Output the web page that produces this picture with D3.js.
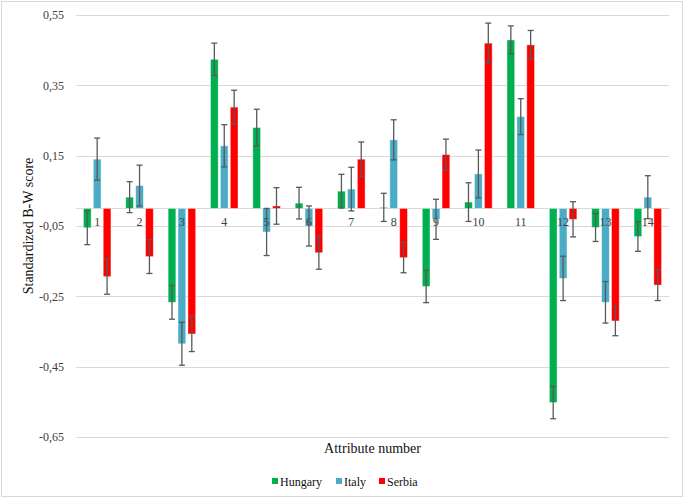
<!DOCTYPE html>
<html>
<head>
<meta charset="utf-8">
<script src="https://cdn.jsdelivr.net/npm/d3@7/dist/d3.min.js"></script>
<style>
  body { margin: 0; background: #fff; }
  svg { display: block; }
</style>
</head>
<body>
<svg id="chart" width="685" height="500" font-family="Liberation Serif"></svg>
<script>
const categories = ["1","2","3","4","5","6","7","8","9","10","11","12","13","14"];
const seriesNames = ["Hungary","Italy","Serbia"];
const seriesColors = ["#00B050","#4BACC6","#FF0000"];
const hungary = [-0.055, 0.032, -0.267, 0.424, 0.230, 0.015, 0.049, 0.003, -0.222, 0.018, 0.479, -0.552, -0.054, -0.080];
const italy   = [0.140, 0.065, -0.385, 0.178, -0.067, -0.050, 0.055, 0.195, -0.031, 0.098, 0.261, -0.199, -0.267, 0.032];
const serbia  = [-0.194, -0.137, -0.357, 0.288, 0.007, -0.126, 0.140, -0.140, 0.153, 0.470, 0.465, -0.031, -0.320, -0.218];
const hungaryErr = [0.048, 0.044, 0.048, 0.046, 0.052, 0.045, 0.048, 0.040, 0.046, 0.055, 0.040, 0.046, 0.040, 0.042];
const italyErr   = [0.060, 0.058, 0.061, 0.060, 0.067, 0.057, 0.062, 0.057, 0.057, 0.068, 0.051, 0.063, 0.059, 0.061];
const serbiaErr  = [0.050, 0.048, 0.050, 0.048, 0.052, 0.047, 0.049, 0.043, 0.044, 0.057, 0.041, 0.050, 0.042, 0.044];
const yTicks = [0.55, 0.35, 0.15, -0.05, -0.25, -0.45, -0.65];

const values = [hungary, italy, serbia];
const errors = [hungaryErr, italyErr, serbiaErr];
const FONT = "Liberation Serif";

const svg = d3.select("#chart");
// outer frame
svg.append("rect").attr("x", 1.5).attr("y", 1.5).attr("width", 681).attr("height", 495)
  .attr("fill", "#fff").attr("stroke", "#d9d9d9").attr("stroke-width", 1);

const plotLeft = 76, plotRight = 669, plotTop = 15, plotBottom = 437;
const x = d3.scaleBand().domain(categories).range([plotLeft, plotRight]).paddingInner(0.35).paddingOuter(0.175);
const xs = d3.scaleBand().domain(seriesNames).range([0, x.bandwidth()]).paddingInner(0.22);
const y = d3.scaleLinear().domain([-0.65, 0.55]).range([plotBottom, plotTop]);

// gridlines
svg.append("g").selectAll("line").data(yTicks).join("line")
  .attr("x1", plotLeft).attr("x2", plotRight)
  .attr("y1", d => Math.round(y(d)) + 0.5).attr("y2", d => Math.round(y(d)) + 0.5)
  .attr("stroke", "#d9d9d9").attr("stroke-width", 1);

// y axis labels
const yAxis = d3.axisLeft(y).tickValues(yTicks).tickSize(0).tickPadding(0)
  .tickFormat(d => d3.format(".2f")(d).replace(".", ",").replace("−", "-"));
const gy = svg.append("g").attr("transform", `translate(64,0)`).call(yAxis);
gy.attr("font-family", FONT).attr("font-size", 12);
gy.select(".domain").remove();
gy.selectAll("text").attr("fill", "#404040").attr("font-family", FONT).attr("font-size", 12);

// zero axis line
svg.append("line").attr("x1", plotLeft).attr("x2", plotRight)
  .attr("y1", Math.round(y(0)) + 0.5).attr("y2", Math.round(y(0)) + 0.5)
  .attr("stroke", "#d9d9d9").attr("stroke-width", 1);

// bars
const groups = svg.append("g").selectAll("g").data(seriesNames).join("g");
groups.each(function(name, si) {
  const g = d3.select(this);
  const data = categories.map((c, i) => ({c, v: values[si][i], e: errors[si][i]}));
  g.selectAll("rect").data(data).join("rect")
    .attr("x", d => x(d.c) + xs(name))
    .attr("width", xs.bandwidth())
    .attr("y", d => y(Math.max(0, d.v)))
    .attr("height", d => Math.abs(y(d.v) - y(0)))
    .attr("fill", seriesColors[si])
    .attr("stroke", "#ffffff").attr("stroke-opacity", 0.5).attr("stroke-width", 0.8);
});

// category labels near zero line
svg.append("g").selectAll("text").data(categories).join("text")
  .attr("x", d => x(d) + x.bandwidth() / 2)
  .attr("y", y(0) + 18)
  .attr("text-anchor", "middle").attr("font-size", 12).attr("font-family", FONT).attr("fill", "#404040")
  .text(d => d);

// error bars
const eg = svg.append("g").attr("stroke", "#595959").attr("stroke-width", 1.3).attr("fill", "none");
seriesNames.forEach((name, si) => {
  categories.forEach((c, i) => {
    const cx = x(c) + xs(name) + xs.bandwidth() / 2;
    const v = values[si][i], e = errors[si][i];
    const y1 = y(v + e), y2 = y(v - e);
    eg.append("line").attr("x1", cx).attr("x2", cx).attr("y1", y1).attr("y2", y2);
    eg.append("line").attr("x1", cx - 3).attr("x2", cx + 3).attr("y1", y1).attr("y2", y1);
    eg.append("line").attr("x1", cx - 3).attr("x2", cx + 3).attr("y1", y2).attr("y2", y2);
  });
});

// axis titles
svg.append("text").attr("x", (plotLeft + plotRight) / 2).attr("y", 453).attr("text-anchor", "middle")
  .attr("font-size", 14).attr("font-family", FONT).attr("fill", "#111").text("Attribute number");
svg.append("text").attr("transform", `translate(33,${(plotTop + plotBottom) / 2}) rotate(-90)`).attr("text-anchor", "middle")
  .attr("font-size", 14).attr("font-family", FONT).attr("fill", "#111").text("Standardized B-W score");

// legend
const legendX = [272, 336, 379];
const lg = svg.append("g").selectAll("g").data(seriesNames).join("g")
  .attr("transform", (d, i) => `translate(${legendX[i]},481)`);
lg.append("rect").attr("x", 0).attr("y", -3).attr("width", 6).attr("height", 6)
  .attr("fill", (d, i) => seriesColors[i]);
lg.append("text").attr("x", 8).attr("y", 4.5).attr("font-size", 12).attr("font-family", FONT)
  .attr("fill", "#111").text(d => d);
</script>
</body>
</html>
